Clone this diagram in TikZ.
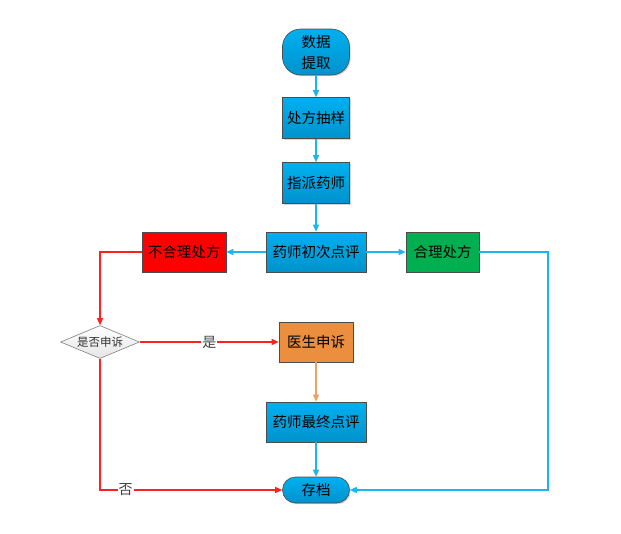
\documentclass[tikz,border=0pt]{standalone}
\usepackage{fontspec}
\setmainfont{Noto Sans CJK SC}
\usetikzlibrary{arrows.meta,shapes.geometric,shadows}
\definecolor{bfill}{HTML}{00B0F0}
\definecolor{bdark}{HTML}{0092CC}
\definecolor{bline}{HTML}{1EB4EE}
\definecolor{rfill}{HTML}{FF0000}
\definecolor{gfill}{HTML}{00B050}
\definecolor{ofill}{HTML}{EB8F3F}
\definecolor{oline}{HTML}{F0A060}
\definecolor{rline}{HTML}{FF2020}
\tikzset{
  base/.style={draw=black!70, line width=0.6pt, font=\fontsize{14.5}{17}\selectfont, inner sep=0pt,
    drop shadow={shadow xshift=1.2pt, shadow yshift=-1.2pt, opacity=0.35}},
  bluebox/.style={base, rectangle, top color=bfill, bottom color=bdark},
  redbox/.style={base, rectangle, fill=rfill},
  greenbox/.style={base, rectangle, fill=gfill},
  orangebox/.style={base, rectangle, fill=ofill},
  term/.style={base, rounded corners=13pt, top color=bfill, bottom color=bdark},
  dec/.style={draw=black!50, line width=0.6pt, diamond, aspect=2.4, inner sep=0pt, top color=white, bottom color=black!10,
    minimum width=79pt, minimum height=33pt, font=\fontsize{11.5}{13}\selectfont, text=black!80},
  barrow/.style={draw=bline, line width=1.3pt, -{Triangle[length=7pt,width=6pt]}},
  rarrow/.style={draw=rline, line width=1.3pt, -{Triangle[length=7pt,width=6pt]}},
  oarrow/.style={draw=oline, line width=1.3pt, -{Triangle[length=7pt,width=6pt]}},
  lbl/.style={fill=white, inner sep=1pt, font=\fontsize{14}{16}\selectfont, text=black!75},
}
\begin{document}
\begin{tikzpicture}[x=1pt,y=-1pt]
\useasboundingbox (0,0) rectangle (621,533);
\node[term, minimum width=67pt, minimum height=46pt, rounded corners=18pt, align=center, font=\fontsize{14.5}{21}\selectfont] (start) at (316,52) {数据\\提取};
\node[bluebox, minimum width=67pt, minimum height=41pt] (sample) at (316,118) {处方抽样};
\node[bluebox, minimum width=67pt, minimum height=41pt] (assign) at (316,183) {指派药师};
\node[bluebox, minimum width=100pt, minimum height=40pt] (first) at (316,252) {药师初次点评};
\node[redbox, minimum width=84pt, minimum height=40pt] (bad) at (184,252) {不合理处方};
\node[greenbox, minimum width=73pt, minimum height=40pt] (good) at (442.5,252) {合理处方};
\node[dec] (ask) at (100,342) {是否申诉};
\node[orangebox, minimum width=74pt, minimum height=40pt] (appeal) at (316,342) {医生申诉};
\node[bluebox, minimum width=100pt, minimum height=40pt] (final) at (316,422) {药师最终点评};
\node[term, minimum width=67pt, minimum height=26pt] (archive) at (316,490) {存档};
\coordinate (c1) at (100,252);
\coordinate (c2) at (100,490);
\coordinate (c3) at (548,252);
\coordinate (c4) at (548,490);

\draw[barrow] (start) -- (sample);
\draw[barrow] (sample) -- (assign);
\draw[barrow] (assign) -- (first);
\draw[barrow] (first) -- (bad);
\draw[barrow] (first) -- (good);
\draw[rarrow] (bad.west) -- (c1) -- (ask.north);
\draw[rarrow] (ask.east) -- node[lbl, pos=0.5] {是} (appeal.west);
\draw[oarrow] (appeal) -- (final);
\draw[barrow] (final) -- (archive);
\draw[rarrow] (ask.south) -- (c2) -- node[lbl, pos=0.14] {否} (archive.west);
\draw[barrow] (good.east) -- (c3) -- (c4) -- (archive.east);
\end{tikzpicture}
\end{document}
